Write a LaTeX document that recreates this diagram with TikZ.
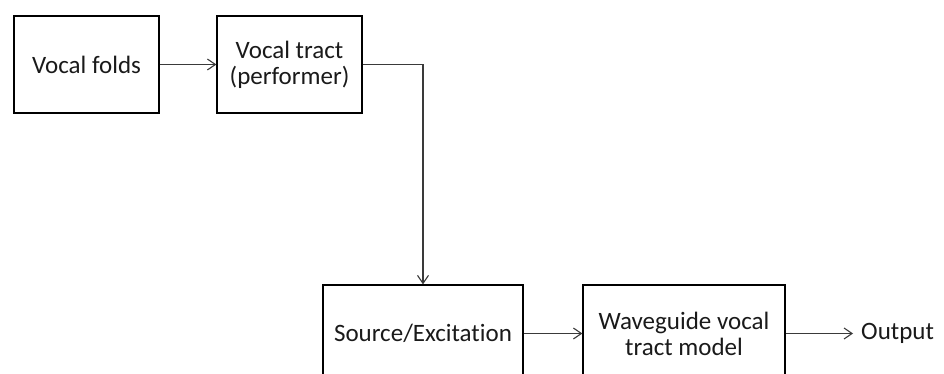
\documentclass[tikz,border=0pt]{standalone}
\usepackage{fontspec}
\setmainfont{Carlito}[Ligatures={NoCommon}]
\usetikzlibrary{arrows.meta}
\definecolor{linegray}{HTML}{3A3A3A}
\definecolor{txt}{HTML}{1A1A1A}
\begin{document}
\begin{tikzpicture}[x=1pt,y=-1pt,
  blk/.style={draw=black,line width=1.3pt,minimum width=145pt,minimum height=97pt,inner sep=0pt,align=center,text=txt,font=\fontsize{25}{26}\selectfont},
  conn/.style={draw=linegray,line width=1.1pt,-{Straight Barb[length=8pt,width=11pt,line width=1.1pt]}}]
\useasboundingbox (0,0) rectangle (944,374);
\clip (0,0) rectangle (944,374);
\fill[white] (0,0) rectangle (944,374);
\node[blk] (b1) at (86.5,64.5) {Vocal folds};
\node[blk] (b2) at (289.5,64.5) {Vocal tract\\(performer)};
\node[blk,minimum width=200pt] (b3) at (423,333.5) {Source/Excitation};
\node[blk,minimum width=202pt] (b4) at (684,333.5) {Waveguide vocal\\tract model};
\node[anchor=west,inner xsep=8pt,inner ysep=0pt,text=txt,font=\fontsize{25}{26}\selectfont] (out) at (853,333.5) {Output};
\draw[conn] (b1.east) -- (b2.west);
\draw[conn] (b2.east) -| (b3.north);
\draw[conn] (b3.east) -- (b4.west);
\draw[conn] (b4.east) -- (out.west);
\end{tikzpicture}
\end{document}
